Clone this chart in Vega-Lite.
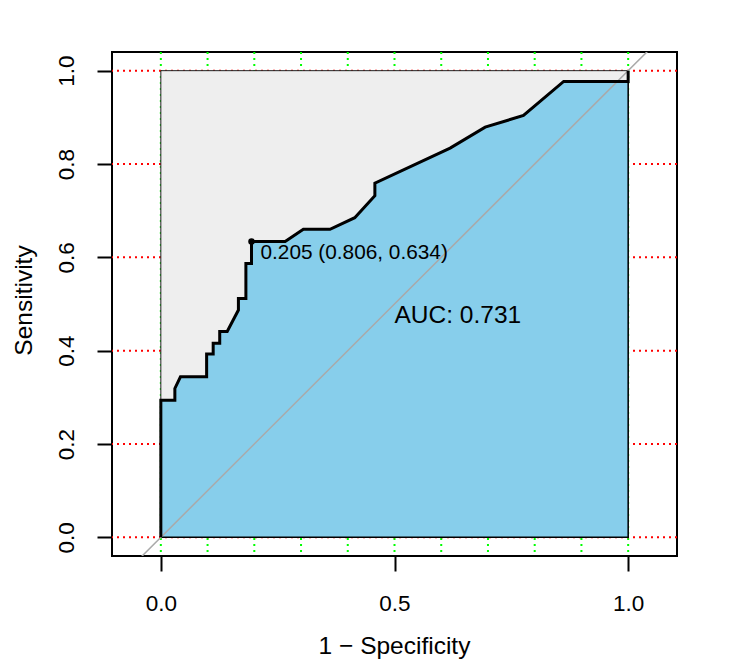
{
  "$schema": "https://vega.github.io/schema/vega-lite/v6.json",
  "autosize": {"type": "none"},
  "padding": {"left": 112, "top": 52, "right": 52, "bottom": 114},
  "width": 565,
  "height": 504,
  "background": "white",
  "config": {
    "view": {"stroke": "black", "strokeWidth": 2},
    "font": "Liberation Sans",
    "axis": {
      "domain": false,
      "grid": false,
      "tickColor": "black",
      "tickWidth": 2,
      "tickSize": 15,
      "labelColor": "black",
      "labelFont": "Liberation Sans",
      "labelFontSize": 22.5,
      "titleFont": "Liberation Sans",
      "titleFontSize": 24.5,
      "titleFontWeight": "normal",
      "titleColor": "black"
    }
  },
  "encoding": {
    "x": {
      "type": "quantitative",
      "scale": {"domain": [-0.1045, 1.1045], "nice": false, "zero": false},
      "axis": {
        "values": [0, 0.5, 1],
        "format": ".1f",
        "labelPadding": 21,
        "title": "1 − Specificity",
        "titleBaseline": "alphabetic",
        "titleX": 282,
        "titleY": 97.5
      }
    },
    "y": {
      "type": "quantitative",
      "scale": {"domain": [-0.04, 1.04], "nice": false, "zero": false},
      "axis": {
        "values": [0, 0.2, 0.4, 0.6, 0.8, 1],
        "format": ".1f",
        "labelAngle": 270,
        "labelAlign": "center",
        "labelBaseline": "alphabetic",
        "labelPadding": 24,
        "title": "Sensitivity",
        "titleAngle": 270,
        "titleBaseline": "alphabetic",
        "titleX": -81,
        "titleY": 248
      }
    }
  },
  "layer": [
    {
      "data": {"values": [{"g": 0}, {"g": 0.1}, {"g": 0.2}, {"g": 0.3}, {"g": 0.4}, {"g": 0.5}, {"g": 0.6}, {"g": 0.7}, {"g": 0.8}, {"g": 0.9}, {"g": 1}]},
      "mark": {"type": "rule", "color": "#00FF00", "strokeWidth": 2, "strokeDash": [2, 4]},
      "encoding": {"x": {"field": "g"}}
    },
    {
      "data": {"values": [{"h": 0}, {"h": 0.2}, {"h": 0.4}, {"h": 0.6}, {"h": 0.8}, {"h": 1}]},
      "mark": {"type": "rule", "color": "#FF0000", "strokeWidth": 2, "strokeDash": [2, 4]},
      "encoding": {"y": {"field": "h"}}
    },
    {
      "data": {"values": [{"x0": 0, "x1": 1, "y0": 0, "y1": 1}]},
      "mark": {"type": "rect", "fill": "#EEEEEE", "stroke": "#222222", "strokeWidth": 1},
      "encoding": {"x": {"field": "x0"}, "x2": {"field": "x1"}, "y": {"field": "y0"}, "y2": {"field": "y1"}}
    },
    {
      "data": {"name": "roc", "values": [
        {"i": 0, "fpr": 0, "tpr": 0},
        {"i": 1, "fpr": 0, "tpr": 0.294},
        {"i": 2, "fpr": 0.030, "tpr": 0.294},
        {"i": 3, "fpr": 0.030, "tpr": 0.319},
        {"i": 4, "fpr": 0.042, "tpr": 0.344},
        {"i": 5, "fpr": 0.098, "tpr": 0.344},
        {"i": 6, "fpr": 0.098, "tpr": 0.393},
        {"i": 7, "fpr": 0.112, "tpr": 0.393},
        {"i": 8, "fpr": 0.112, "tpr": 0.416},
        {"i": 9, "fpr": 0.126, "tpr": 0.416},
        {"i": 10, "fpr": 0.126, "tpr": 0.441},
        {"i": 11, "fpr": 0.142, "tpr": 0.441},
        {"i": 12, "fpr": 0.166, "tpr": 0.487},
        {"i": 13, "fpr": 0.166, "tpr": 0.512},
        {"i": 14, "fpr": 0.182, "tpr": 0.512},
        {"i": 15, "fpr": 0.182, "tpr": 0.587},
        {"i": 16, "fpr": 0.194, "tpr": 0.587},
        {"i": 17, "fpr": 0.194, "tpr": 0.634},
        {"i": 18, "fpr": 0.266, "tpr": 0.634},
        {"i": 19, "fpr": 0.305, "tpr": 0.660},
        {"i": 20, "fpr": 0.362, "tpr": 0.660},
        {"i": 21, "fpr": 0.415, "tpr": 0.685},
        {"i": 22, "fpr": 0.458, "tpr": 0.732},
        {"i": 23, "fpr": 0.458, "tpr": 0.759},
        {"i": 24, "fpr": 0.619, "tpr": 0.834},
        {"i": 25, "fpr": 0.694, "tpr": 0.879},
        {"i": 26, "fpr": 0.776, "tpr": 0.904},
        {"i": 27, "fpr": 0.862, "tpr": 0.977},
        {"i": 28, "fpr": 1, "tpr": 0.977},
        {"i": 29, "fpr": 1, "tpr": 1}
      ]},
      "layer": [
        {
          "mark": {"type": "area", "fill": "#87CEEB", "stroke": "black", "strokeWidth": 1.5},
          "encoding": {
            "x": {"field": "fpr"},
            "y": {"field": "tpr"},
            "y2": {"datum": 0}
          }
        },
        {
          "data": {"values": [{"a": -0.3}, {"a": 1.3}]},
          "mark": {"type": "line", "color": "#A9A9A9", "strokeWidth": 1.5, "clip": true},
          "encoding": {"x": {"field": "a"}, "y": {"field": "a"}}
        },
        {
          "mark": {"type": "line", "color": "black", "strokeWidth": 3},
          "encoding": {
            "x": {"field": "fpr"},
            "y": {"field": "tpr"},
            "order": {"field": "i"}
          }
        }
      ]
    },
    {
      "data": {"values": [{"fpr": 0.194, "tpr": 0.634, "label": "0.205 (0.806, 0.634)"}]},
      "layer": [
        {
          "mark": {"type": "point", "filled": true, "color": "black", "size": 42, "opacity": 1},
          "encoding": {"x": {"field": "fpr"}, "y": {"field": "tpr"}}
        },
        {
          "mark": {"type": "text", "align": "left", "baseline": "alphabetic", "dx": 9, "dy": 18, "fontSize": 20.8, "color": "black"},
          "encoding": {"x": {"field": "fpr"}, "y": {"field": "tpr"}, "text": {"field": "label"}}
        }
      ]
    },
    {
      "data": {"values": [{"ax": 0.5, "ay": 0.46, "t": "AUC: 0.731"}]},
      "mark": {"type": "text", "align": "left", "baseline": "alphabetic", "fontSize": 24.5, "color": "black"},
      "encoding": {"x": {"field": "ax"}, "y": {"field": "ay"}, "text": {"field": "t"}}
    }
  ]
}
